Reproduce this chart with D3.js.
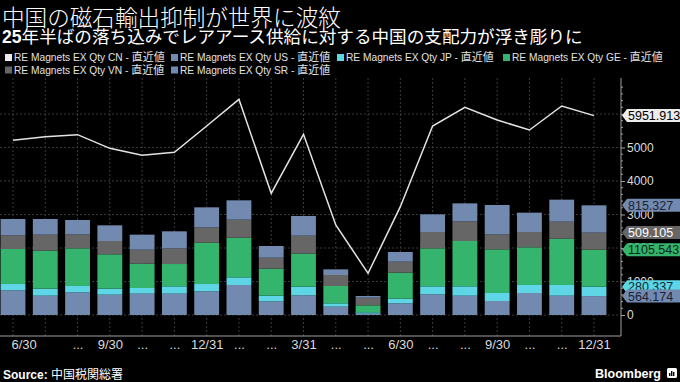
<!DOCTYPE html>
<html><head><meta charset="utf-8">
<script src="https://cdn.jsdelivr.net/npm/d3@7"></script>
<style>html,body{margin:0;padding:0;background:#000;overflow:hidden}svg{display:block}</style>
</head><body>
<svg id="c" width="680" height="382"></svg>
<script>
// ---- data ----
const categories = ["2024-06","2024-07","2024-08","2024-09","2024-10","2024-11","2024-12",
  "2025-01","2025-02","2025-03","2025-04","2025-05","2025-06","2025-07","2025-08","2025-09",
  "2025-10","2025-11","2025-12"];
const tickLabels = ["6/30","","...","9/30","...","...","12/31","...","...","3/31","...","...",
  "6/30","...","...","9/30","...","...","12/31"];
const cnValues = [5214,5323,5383,4975,4766,4856,5642,6438,3632,5393,2687,1244,3233,5642,6199,5821,5522,6239,5951.913];
const usValues = [736,577,677,607,637,637,706,896,408,587,249,40,348,617,577,418,657,577,564.174];
const jpValues = [189,209,189,179,169,219,219,228,169,259,99,40,140,239,279,239,239,319,280.337];
const geValues = [1045,1134,1124,1025,726,666,1234,1184,806,985,518,209,776,1134,1353,1303,1124,1382,1105.543];
const vnValues = [409,478,418,398,418,468,458,538,328,537,328,228,328,488,587,448,458,508,509.105];
const srValues = [487,468,428,468,448,508,597,577,349,587,169,50,289,527,537,876,577,657,815.327];
const yTicks = [0,1000,2000,3000,4000,5000,6000];
const legendNames = ["RE Magnets EX Qty CN","RE Magnets EX Qty US","RE Magnets EX Qty JP",
  "RE Magnets EX Qty GE","RE Magnets EX Qty VN","RE Magnets EX Qty SR"];
const legendKeys = ["CN","US","JP","GE","VN","SR"];
const stackKeys = ["US","JP","GE","VN","SR"];

// ---- styles ----
const colors = {CN:"#ececec", US:"#7289b0", JP:"#5ed6e6", GE:"#34b46c", VN:"#666666", SR:"#7289b0"};
const tagText = {CN:"#000", US:"#1c2333", JP:"#0d2a30", GE:"#0b2617", VN:"#fff", SR:"#1c2333"};
const latin = "'Liberation Sans', Arial, sans-serif";
const cjk = "'Noto Sans CJK JP', sans-serif";

const seriesMap = {CN:cnValues, US:usValues, JP:jpValues, GE:geValues, VN:vnValues, SR:srValues};
const table = categories.map((c,i)=>{
  const r = {cat:c};
  legendKeys.forEach(k=> r[k]=seriesMap[k][i]);
  return r;
});

const svg = d3.select("#c");
svg.append("rect").attr("width",680).attr("height",382).attr("fill","#000");

const plot = {left:0, right:621, top:78, bottom:336};
const x = d3.scalePoint().domain(categories).range([13,594]);
const y = d3.scaleLinear().domain([-627,7075]).range([plot.bottom, plot.top]);
const bw = x.step()*0.77;

// title
svg.append("text").attr("x",2).attr("y",25.5).attr("fill","#fff")
  .style("font-family",cjk).style("font-size","22.6px").style("font-weight",300)
  .text("中国の磁石輸出抑制が世界に波紋");
const sub = svg.append("text").attr("x",2).attr("y",43).attr("fill","#fff").style("font-size","17.6px");
sub.append("tspan").style("font-family",latin).style("font-weight","bold").text("25");
sub.append("tspan").style("font-family",cjk).text("年半ばの落ち込みでレアアース供給に対する中国の支配力が浮き彫りに");

// legend
const lg = svg.append("g");
legendKeys.forEach((k,i)=>{
  const lx = 5 + (i%4)*166, ly = 57.5 + Math.floor(i/4)*12.5;
  lg.append("rect").attr("x",lx).attr("y",ly-3.5).attr("width",7).attr("height",7).attr("fill",colors[k]);
  const t = lg.append("text").attr("x",lx+9).attr("y",ly+3.5).attr("fill","#e2e2e2");
  t.append("tspan").style("font-family",latin).style("font-size","10.2px").text(legendNames[i]+" - ");
  t.append("tspan").style("font-family",cjk).style("font-size","11px").text("直近値");
});

// grid
const grid = svg.append("g").attr("stroke","#3a3a3a").attr("stroke-dasharray","2,2").attr("stroke-width",1);
grid.selectAll("line.v").data(categories).join("line")
  .attr("x1",d=>x(d)).attr("x2",d=>x(d)).attr("y1",plot.top).attr("y2",plot.bottom);
grid.selectAll("line.h").data(yTicks).join("line").attr("class","h")
  .attr("x1",plot.left).attr("x2",plot.right).attr("y1",d=>y(d)).attr("y2",d=>y(d));

// bars
const stack = d3.stack().keys(stackKeys)(table);
svg.append("g").selectAll("g").data(stack).join("g").attr("fill",d=>colors[d.key])
  .selectAll("rect").data(d=>d).join("rect")
  .attr("x",d=>x(d.data.cat)-bw/2).attr("width",bw)
  .attr("y",d=>y(d[1])).attr("height",d=>y(d[0])-y(d[1]));

// line
svg.append("path").datum(table).attr("fill","none").attr("stroke","#e4e4e4").attr("stroke-width",1.5)
  .attr("d",d3.line().x(d=>x(d.cat)).y(d=>y(d.CN)));

// bottom axis
const xa = svg.append("g").attr("transform",`translate(0,${plot.bottom})`)
  .call(d3.axisBottom(x).tickSize(0).tickPadding(4).tickFormat((d,i)=>tickLabels[i]));
xa.select(".domain").remove();
xa.append("line").attr("x1",plot.left).attr("x2",plot.right).attr("stroke","#a0a0a0");
xa.selectAll("text").attr("fill","#dcdcdc").style("font-family",latin).style("font-size","13px");
xa.selectAll(".tick").filter((d,i)=>i===0).select("text").attr("text-anchor","start").attr("x",-2);

// right axis
const ya = svg.append("g").attr("transform",`translate(${plot.right},0)`)
  .call(d3.axisRight(y).tickValues(yTicks).tickSize(4).tickPadding(2).tickFormat(d3.format("d")));
ya.select(".domain").attr("d",`M0,${plot.top}V${plot.bottom}`).attr("stroke","#a0a0a0");
ya.selectAll(".tick line").attr("stroke","#a0a0a0");
ya.selectAll("text").attr("fill","#dcdcdc").style("font-family",latin).style("font-size","12px");
ya.selectAll("line.minor").data(d3.range(0,7001,200).filter(v=>v%1000!==0)).join("line")
  .attr("class","minor").attr("x1",0).attr("x2",2).attr("y1",d=>y(d)).attr("y2",d=>y(d)).attr("stroke","#a0a0a0");

// value tags
const last = table.length-1;
const lastStack = {};
stack.forEach(s=> lastStack[s.key] = s[last][1]);
const tags = [
  {k:"CN", pos:cnValues[last], val:cnValues[last]},
  {k:"SR", pos:lastStack.SR, val:srValues[last]},
  {k:"VN", pos:lastStack.VN, val:vnValues[last]},
  {k:"GE", pos:lastStack.GE, val:geValues[last]},
  {k:"JP", pos:lastStack.JP, val:jpValues[last]},
  {k:"US", pos:lastStack.US, val:usValues[last]}
];
const tg = svg.append("g");
tags.forEach(t=>{
  const cy = y(t.pos);
  tg.append("path").attr("d",`M${plot.right+1},${cy} L${plot.right+6},${cy-6.5} H681 V${cy+6.5} H${plot.right+6} Z`)
    .attr("fill",colors[t.k]);
  tg.append("text").attr("x",plot.right+7).attr("y",cy+4.5).attr("fill",tagText[t.k])
    .style("font-family",latin).style("font-size","12.5px").text(d3.format(".3f")(t.val));
});

// footer
const src = svg.append("text").attr("x",3).attr("y",379).attr("fill","#fff").style("font-size","12px");
src.append("tspan").style("font-family",latin).style("font-weight","bold").text("Source: ");
src.append("tspan").style("font-family",cjk).text("中国税関総署");
svg.append("text").attr("x",595).attr("y",378).attr("fill","#fff")
  .style("font-family",latin).style("font-weight","bold").style("font-size","12.5px").text("Bloomberg");
const ic = svg.append("g").attr("transform","translate(667,368)");
ic.append("rect").attr("width",10).attr("height",10).attr("rx",1.5).attr("fill","#fff");
[[2,5],[4,3],[6,4]].forEach(([bx,by])=> ic.append("rect").attr("x",bx).attr("y",by).attr("width",1.4).attr("height",8-by).attr("fill","#000"));
</script>
</body></html>
